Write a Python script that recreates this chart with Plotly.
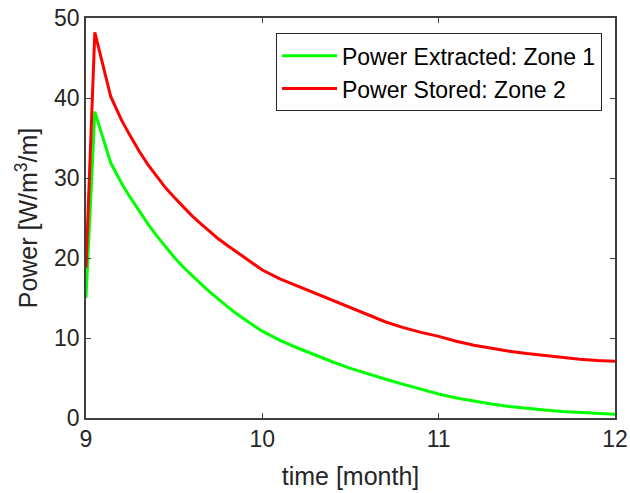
import plotly.graph_objects as go

time = [9.0, 9.05, 9.14, 9.2, 9.25, 9.3, 9.35, 9.4, 9.45, 9.5, 9.55, 9.6, 9.65, 9.7,
        9.75, 9.8, 9.85, 9.9, 9.95, 10.0, 10.1, 10.2, 10.3, 10.4, 10.5, 10.6, 10.7,
        10.8, 10.9, 11.0, 11.1, 11.2, 11.3, 11.4, 11.5, 11.6, 11.7, 11.8, 11.9, 12.0]
power_extracted = [15.0, 38.3, 31.9, 29.4, 27.6, 25.9, 24.3, 22.8, 21.4, 20.1, 18.9,
                   17.8, 16.8, 15.8, 14.85, 13.95, 13.1, 12.3, 11.55, 10.85, 9.7, 8.75,
                   7.85, 7.0, 6.2, 5.5, 4.85, 4.2, 3.6, 3.0, 2.5, 2.1, 1.75, 1.45, 1.2,
                   1.0, 0.82, 0.68, 0.56, 0.46]
power_stored = [18.8, 48.2, 40.2, 37.3, 35.3, 33.4, 31.7, 30.2, 28.8, 27.6, 26.4, 25.3,
                24.3, 23.3, 22.4, 21.6, 20.8, 20.0, 19.2, 18.5, 17.4, 16.5, 15.7, 14.8,
                13.9, 12.9, 12.0, 11.3, 10.7, 10.2, 9.6, 9.1, 8.7, 8.35, 8.05, 7.8,
                7.55, 7.35, 7.2, 7.1]

x_ticks = [9, 10, 11, 12]
y_ticks = [0, 10, 20, 30, 40, 50]

fig = go.Figure()
fig.add_trace(go.Scatter(x=time, y=power_extracted, mode="lines",
                         name="Power Extracted: Zone 1",
                         line=dict(color="#00ff00", width=3)))
fig.add_trace(go.Scatter(x=time, y=power_stored, mode="lines",
                         name="Power Stored: Zone 2",
                         line=dict(color="#ff0000", width=3)))

axis_common = dict(showgrid=False, zeroline=False, showline=True, mirror="ticks",
                   linecolor="#404040", linewidth=1.5, ticks="inside", ticklen=5,
                   tickcolor="#404040", tickwidth=1, automargin=False,
                   tickfont=dict(family="Liberation Sans, Arial", size=23, color="#262626"))

fig.update_layout(
    width=630, height=493,
    margin=dict(l=86, r=15, t=18, b=75),
    paper_bgcolor="white", plot_bgcolor="white",
    font=dict(family="Liberation Sans, Arial", color="#262626"),
    xaxis=dict(range=[9, 12], tickvals=x_ticks,
               title=dict(text="time [month]", font=dict(size=25), standoff=16),
               **axis_common),
    yaxis=dict(range=[0, 50], tickvals=y_ticks,
               title=dict(text="Power [W/m<sup>3</sup>/m]", font=dict(size=25), standoff=9),
               **axis_common),
    legend=dict(x=0.9754, y=0.962, xanchor="right", yanchor="top",
                bgcolor="white", bordercolor="#262626", borderwidth=1,
                itemwidth=55,
                font=dict(size=23, color="#000000"), tracegroupgap=0),
    showlegend=True,
)

fig.write_html("out.html", config={"displayModeBar": False},
               post_script="document.body.style.margin='0px';")
